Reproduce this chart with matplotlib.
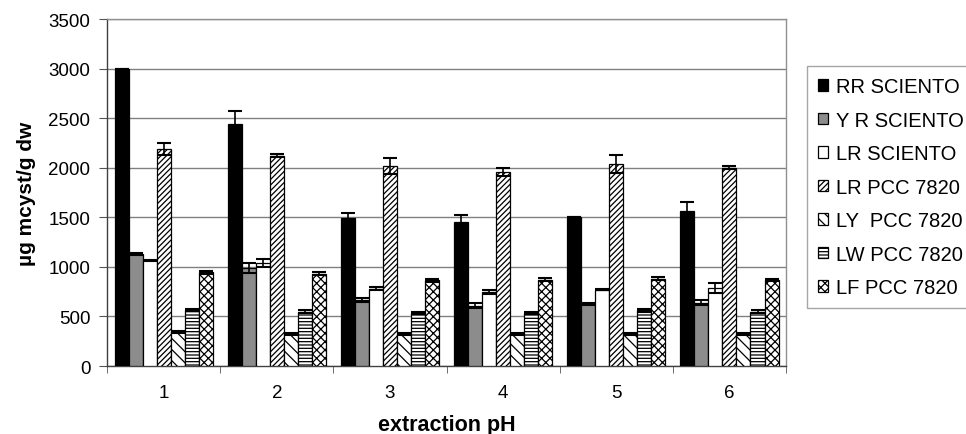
import matplotlib
matplotlib.use("Agg")
import matplotlib.pyplot as plt
import numpy as np

plt.rcParams['font.family'] = ['Liberation Sans', 'DejaVu Sans']
plt.rcParams['hatch.linewidth'] = 0.9

categories = ["1", "2", "3", "4", "5", "6"]
series_names = ["RR SCIENTO", "Y R SCIENTO", "LR SCIENTO", "LR PCC 7820",
                "LY  PCC 7820", "LW PCC 7820", "LF PCC 7820"]

rr_sciento = [3000, 2440, 1490, 1450, 1500, 1560]
yr_sciento = [1125, 990, 670, 610, 630, 640]
lr_sciento = [1065, 1040, 780, 745, 770, 790]
lr_pcc = [2190, 2120, 2020, 1960, 2040, 2000]
ly_pcc = [340, 320, 320, 325, 325, 320]
lw_pcc = [565, 545, 530, 530, 560, 545]
lf_pcc = [945, 930, 865, 870, 880, 870]

rr_err = [0, 130, 50, 70, 0, 90]
yr_err = [10, 50, 20, 25, 10, 25]
lr_err = [5, 40, 15, 20, 5, 50]
lrp_err = [60, 15, 80, 40, 90, 15]
ly_err = [10, 10, 10, 10, 10, 10]
lw_err = [15, 15, 10, 10, 15, 15]
lf_err = [15, 15, 15, 15, 15, 10]

values = [rr_sciento, yr_sciento, lr_sciento, lr_pcc, ly_pcc, lw_pcc, lf_pcc]
errors = [rr_err, yr_err, lr_err, lrp_err, ly_err, lw_err, lf_err]
facecolors = ["black", "#8c8c8c", "white", "white", "white", "white", "white"]
hatches = [None, None, None, "//////", "\\\\\\", "-----", "xxxx"]

fig = plt.figure(figsize=(9.66, 4.35), dpi=100)
ax = fig.add_axes([0.1108, 0.1563, 0.7029, 0.7977])

x = np.arange(1, len(categories) + 1)
w = 0.124
for j, (vals, errs) in enumerate(zip(values, errors)):
    ax.bar(x + (j - 3) * w, vals, width=w, color=facecolors[j],
           edgecolor="black", linewidth=0.9, hatch=hatches[j],
           label=series_names[j], zorder=3)
    ax.errorbar(x + (j - 3) * w, vals, yerr=errs, fmt="none", ecolor="black",
                elinewidth=1.2, capsize=5, capthick=1.5, zorder=4)

ax.set_xlim(0.5, 6.5)
ax.set_ylim(0, 3500)
ax.set_yticks(np.arange(0, 3501, 500))
ax.tick_params(axis="y", labelsize=13.5, length=6, pad=6, direction="out", color="#555555")
ax.set_xticks(x)
ax.set_xticklabels(categories, fontsize=13.5)
ax.tick_params(axis="x", length=0, pad=13)
ax.set_xticks(np.arange(0.5, 6.6, 1), minor=True)
ax.tick_params(axis="x", which="minor", length=5, color="#555555")
ax.yaxis.grid(True, color="#808080", linewidth=1.0, zorder=0)
ax.set_axisbelow(True)
for s in ["top", "right"]:
    ax.spines[s].set_color("#909090")
    ax.spines[s].set_linewidth(1.0)
for s in ["left", "bottom"]:
    ax.spines[s].set_color("#404040")
    ax.spines[s].set_linewidth(1.0)

ax.set_ylabel("µg mcyst/g dw", fontsize=15, fontweight="bold", labelpad=9)
ax.set_xlabel("extraction pH", fontsize=15.5, fontweight="bold", labelpad=9)

leg = fig.legend(loc="upper left", bbox_to_anchor=(0.835, 0.846),
                 bbox_transform=fig.transFigure, fontsize=14.5,
                 frameon=True, fancybox=False, edgecolor="#909090",
                 handlelength=0.5, handleheight=0.5, handletextpad=0.4,
                 labelspacing=0.72, borderpad=0.55, borderaxespad=0)
leg.get_frame().set_linewidth(1.0)

fig.savefig("out.png", dpi=100)
